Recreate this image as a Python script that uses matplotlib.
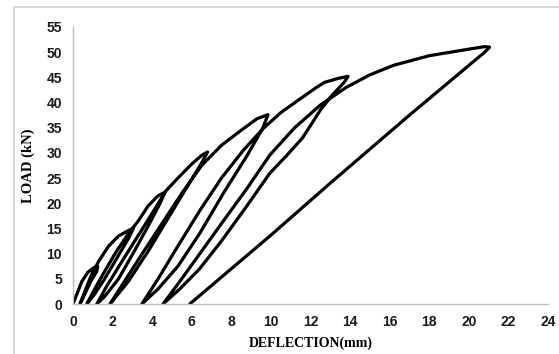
import numpy as np
from matplotlib import pyplot as plt
from matplotlib.patches import Rectangle

# Load-deflection hysteresis (path in drawing order)
deflection = [
    # first loading to ~7.3 kN
    0.00, 0.20, 0.45, 0.75, 1.05, 1.25,
    # unloading
    1.20, 0.90, 0.60, 0.35,
    # reload to ~15 kN
    0.60, 0.90, 1.30, 1.80, 2.30, 2.80, 3.05,
    # unloading
    2.80, 2.20, 1.60, 1.10, 0.70,
    # reload to ~22 kN
    1.10, 1.60, 2.20, 2.80, 3.30, 3.80, 4.30, 4.65,
    # unloading
    4.40, 3.80, 3.10, 2.30, 1.60, 1.20,
    # reload to ~30 kN
    1.70, 2.40, 3.20, 4.00, 4.70, 5.30, 6.00, 6.50, 6.80,
    # unloading
    6.50, 5.80, 4.80, 3.80, 2.80, 1.87,
    # reload to ~37.5 kN
    2.60, 3.50, 4.50, 5.50, 6.50, 7.50, 8.50, 9.30, 9.85,
    # unloading
    9.60, 8.80, 7.60, 6.40, 5.30, 4.30, 3.48,
    # reload to ~45 kN
    4.30, 5.30, 6.40, 7.50, 8.60, 9.60, 10.50, 11.50, 12.30, 12.70, 13.40, 13.90,
    # unloading
    13.70, 13.10, 12.50, 11.60, 10.80, 9.95, 8.70, 7.50, 6.40, 5.40, 4.55,
    # reload to peak ~51 kN
    5.40, 6.50, 7.60, 8.80, 9.95, 11.20, 12.50, 13.80, 15.00, 16.20, 18.00, 20.00, 20.80, 21.05,
    # final unloading
    20.80, 17.00, 13.00, 9.95, 5.90,
]
load = [
    0.0, 2.0, 4.5, 6.3, 7.2, 7.4,
    6.5, 4.5, 2.0, 0.0,
    2.5, 5.5, 8.5, 11.5, 13.5, 14.6, 15.0,
    13.0, 9.0, 5.0, 2.0, 0.0,
    3.0, 6.5, 10.5, 14.0, 16.5, 19.5, 21.5, 22.2,
    20.0, 15.5, 10.5, 5.0, 1.5, 0.0,
    3.5, 8.0, 13.0, 18.0, 22.5, 25.0, 27.8, 29.5, 30.2,
    28.0, 23.5, 17.0, 10.5, 4.5, 0.0,
    4.5, 10.0, 16.0, 22.0, 27.5, 31.5, 34.5, 36.8, 37.6,
    35.0, 29.5, 22.0, 14.0, 7.5, 3.0, 0.0,
    5.0, 11.5, 18.5, 25.0, 30.5, 34.8, 38.0, 40.8, 43.0, 44.0, 44.8, 45.2,
    44.0, 41.5, 38.5, 33.0, 29.5, 26.0, 19.0, 12.5, 7.0, 3.0, 0.0,
    4.5, 10.5, 16.5, 23.0, 29.6, 35.0, 39.5, 43.0, 45.5, 47.4, 49.3, 50.6, 51.1, 51.0,
    50.0, 37.5, 24.0, 13.5, 0.0,
]

x_ticks = list(range(0, 25, 2))
y_ticks = list(range(0, 56, 5))

fig = plt.figure(figsize=(5.59, 3.54), dpi=100)
ax = fig.add_axes([73/559, 50/354, 475/559, 277/354])

ax.plot(deflection, load, color='black', linewidth=2.3,
        solid_joinstyle='round', solid_capstyle='round')

ax.set_xlim(0, 24)
ax.set_ylim(0, 55)
ax.set_xticks(x_ticks)
ax.set_yticks(y_ticks)
ax.tick_params(length=0, labelsize=10, pad=8, colors='#1a1a1a')
for lbl in ax.get_xticklabels() + ax.get_yticklabels():
    lbl.set_fontweight('bold')
    lbl.set_family('Liberation Sans')

for side in ['top', 'right']:
    ax.spines[side].set_visible(False)
for side in ['left', 'bottom']:
    ax.spines[side].set_color('#bfbfbf')
    ax.spines[side].set_linewidth(1.0)

ax.set_xlabel('DEFLECTION(mm)', family='Liberation Serif', fontweight='bold',
              fontsize=10, labelpad=5)
ax.set_ylabel('LOAD (kN)', family='Liberation Serif', fontweight='bold',
              fontsize=10.5, labelpad=8)

# outer chart frame (runs past the right/bottom edges)
fig.patches.append(Rectangle((14/559, -0.1), 1.2, (354 - 7)/354 + 0.1,
                             transform=fig.transFigure, fill=False,
                             edgecolor='#d0d0d0', linewidth=1.2))

fig.savefig('out.png', dpi=100)
